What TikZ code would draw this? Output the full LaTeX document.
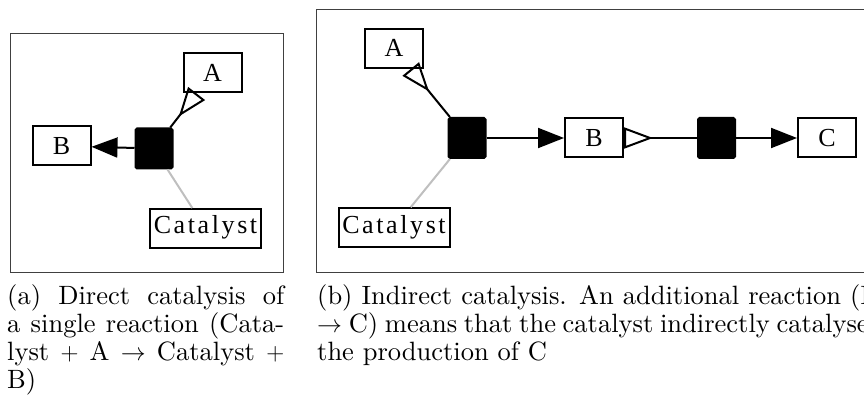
\documentclass[tikz,border=0pt]{standalone}
\usepackage{fontspec}
\newfontfamily\gvfont{Liberation Serif}
\newfontfamily\gvspaced{Liberation Serif}[LetterSpace=10]
\newfontfamily\capfont{lmroman10-regular.otf}
\usetikzlibrary{arrows.meta}

\begin{document}
\begin{tikzpicture}[x=1pt, y=-1pt,
  species/.style={draw, line width=2pt, rectangle, minimum width=58pt,
    minimum height=39pt, inner sep=0pt,
    font=\gvfont\fontsize{26}{26}\selectfont, text height=16.5pt, text depth=0pt},
  catalyst/.style={species, minimum width=111pt,
    font=\gvspaced\fontsize{26}{26}\selectfont, text depth=6pt},
  reaction/.style={draw, fill=black, line width=2pt, rounded corners=1.5pt,
    minimum width=37pt, minimum height=40pt, inner sep=0pt},
  flow/.style={line width=2pt, -{Triangle[length=26pt, width=20pt]}},
  reactant/.style={line width=2pt, -{Triangle[open, reversed, length=29pt, width=21pt]}},
  modifier/.style={line width=2pt, draw=black!25},
  panel/.style={draw=black!75, line width=1pt},
  caption/.style={anchor=base west, inner sep=0pt,
    font=\capfont\fontsize{26.5}{28}\selectfont}
]
\useasboundingbox (0,0) rectangle (864,403);
\clip (0,0) rectangle (864,403);

% panel frames
\draw[panel] (10,34) rectangle (283,272);
\draw[panel] (316.5,10) rectangle (900,272);

% (a) direct catalysis
\node[species]  (a1)   at (212.5,73)  {A};
\node[species]  (b1)   at (61.5,146)  {B};
\node[reaction] (r1)   at (154,148.5) {};
\node[catalyst] (cat1) at (205.5,228.5) {Catalyst};
\draw[reactant] (r1) -- (a1);
\draw[flow]     (r1) -- (b1);
\draw[modifier] (r1) -- (cat1);

% (b) indirect catalysis
\node[species]  (a2)   at (394,48.5)  {A};
\node[reaction] (r2)   at (467,138)   {};
\node[species]  (b2)   at (594,138)   {B};
\node[reaction] (r3)   at (716.5,138) {};
\node[species]  (c2)   at (827,138)   {C};
\node[catalyst] (cat2) at (394,227.8) {Catalyst};
\draw[reactant] (r2) -- (a2);
\draw[flow]     (r2) -- (b2);
\draw[modifier] (r2) -- (cat2);
\draw[reactant] (r3) -- (b2);
\draw[flow]     (r3) -- (c2);

% captions
\node[caption] (capa1) at (7,304) {\makebox[277pt][s]{(a) Direct catalysis of}};
\node[caption] (capa2) at (7,332) {\makebox[277pt][s]{a single reaction (Cata-}};
\node[caption] (capa3) at (7,360) {\makebox[277pt][s]{lyst $+$ A $\rightarrow$ Catalyst $+$}};
\node[caption] (capa4) at (7,388) {B)};
\node[caption] (capb1) at (317,304) {\makebox[562pt][s]{(b) Indirect catalysis. An additional reaction (B}};
\node[caption] (capb2) at (317,332) {\makebox[562pt][s]{$\rightarrow$ C) means that the catalyst indirectly catalyses}};
\node[caption] (capb3) at (317,360) {the production of C};
\end{tikzpicture}
\end{document}
